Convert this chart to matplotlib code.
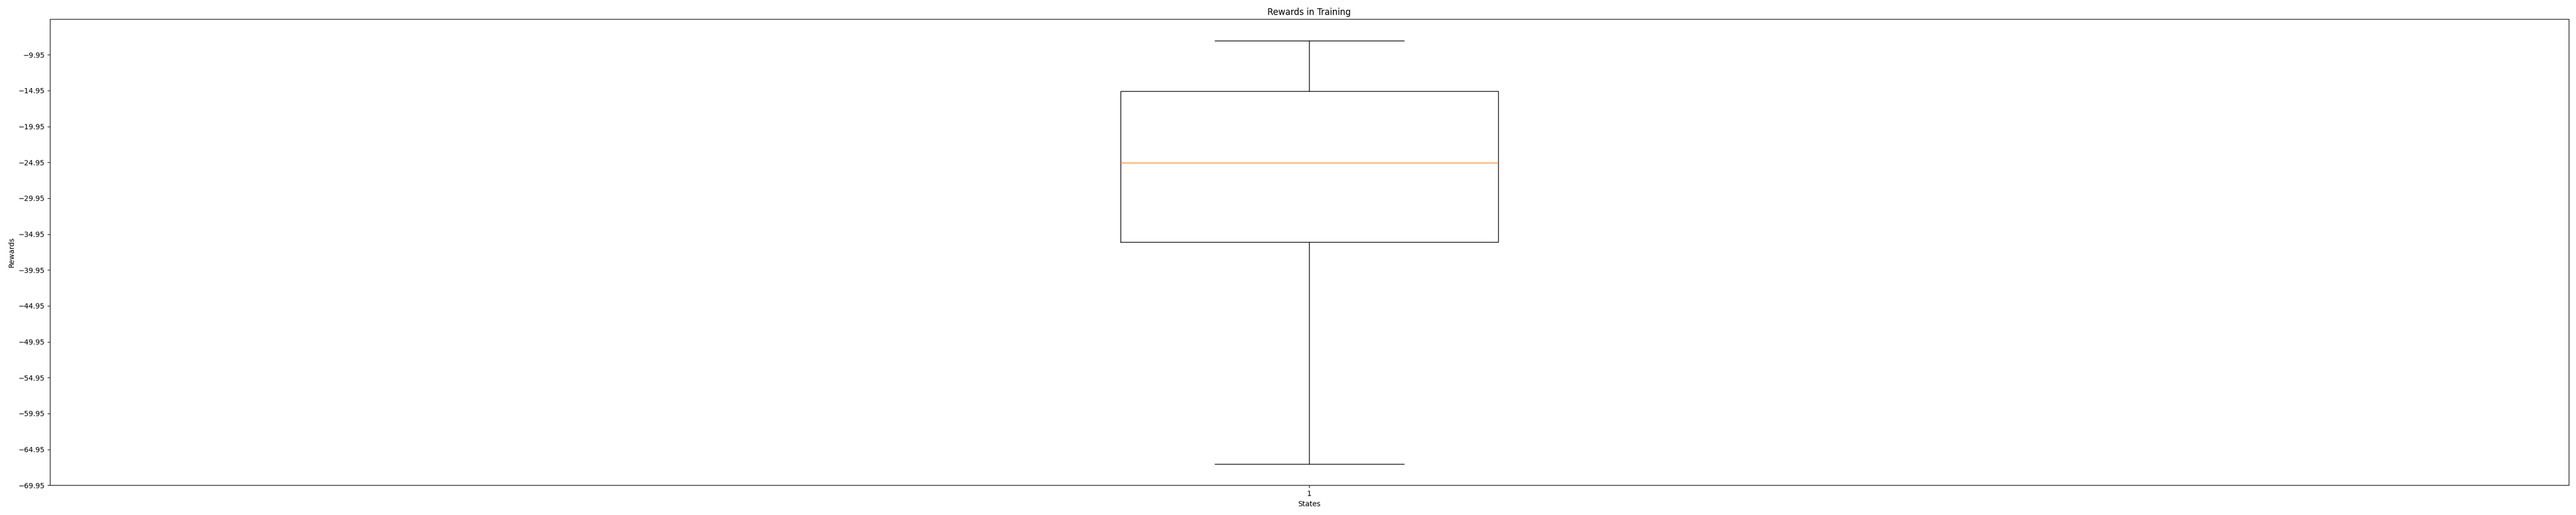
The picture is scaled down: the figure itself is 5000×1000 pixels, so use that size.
import numpy as np
import matplotlib
matplotlib.use("Agg")
import matplotlib.pyplot as plt

# box summary (one state)
states = ["1"]
whisker_low = [-66.99]
q1 = [-36.02]
median = [-24.97]
q3 = [-15.01]
whisker_high = [-8.0]

y_ticks = np.arange(-69.95, -9.9, 5)

stats = []
for i in range(len(states)):
    stats.append({
        "label": states[i],
        "whislo": whisker_low[i],
        "q1": q1[i],
        "med": median[i],
        "q3": q3[i],
        "whishi": whisker_high[i],
        "fliers": [],
    })

fig, ax = plt.subplots(figsize=(50, 10), dpi=100)
ax.bxp(stats, showfliers=False)

ax.set_title("Rewards in Training")
ax.set_xlabel("States")
ax.set_ylabel("Rewards")
ax.set_yticks(y_ticks)
ax.set_yticklabels(["{:.2f}".format(v).replace("-", "\u2212") for v in y_ticks])
ax.set_ylim(-69.95, -5.0)

plt.subplots_adjust(left=0.0193, right=0.9972, top=0.9627, bottom=0.0577)
plt.savefig("out.png")
